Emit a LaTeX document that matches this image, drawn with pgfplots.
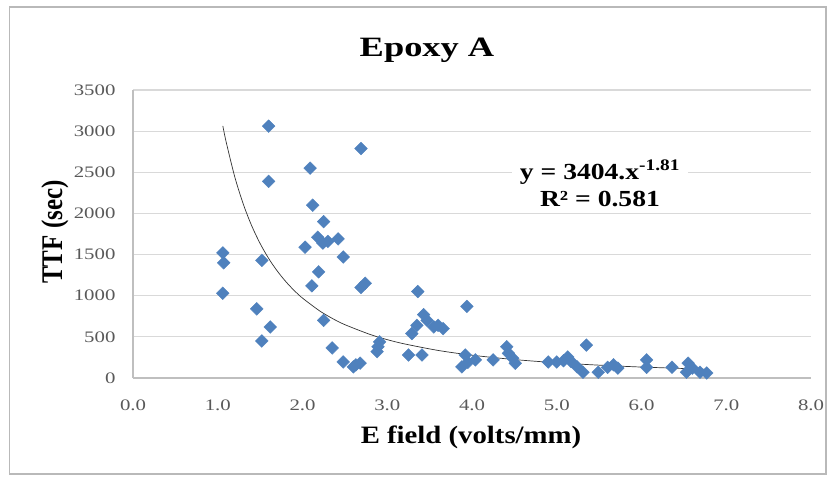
\documentclass[border=0pt]{standalone}
\usepackage{pgfplots}
\pgfplotsset{compat=1.18}
\usepackage{fontspec}
\setmainfont{Liberation Serif}
\definecolor{mk}{HTML}{4F81BD}
\definecolor{gridc}{HTML}{D9D9D9}
\definecolor{axl}{HTML}{BFBFBF}
\definecolor{tk}{HTML}{595959}
\begin{document}
\begin{tikzpicture}[x=1bp,y=1bp]
\useasboundingbox (0,0) rectangle (833,481);
\draw[color=gray!55, line width=1.2bp] (9.5,7) rectangle (826,474);
\node[font=\bfseries\fontsize{28bp}{32bp}\selectfont, xscale=1.3, anchor=base] at (427,424) {Epoxy A};
\begin{axis}[
  at={(133bp,103bp)}, anchor=south west,
  scale only axis, width=678bp, height=288bp,
  xmin=0, xmax=8, ymin=0, ymax=3500,
  xtick={0,1,2,3,4,5,6,7,8},
  xticklabels={0.0,1.0,2.0,3.0,4.0,5.0,6.0,7.0,8.0},
  ytick={0,500,1000,1500,2000,2500,3000,3500},
  yticklabels={0,500,1000,1500,2000,2500,3000,3500},
  axis x line*=bottom, axis y line*=left,
  axis line style={draw=axl, line width=1.2bp},
  major tick length=0pt,
  ymajorgrids, grid style={draw=gridc, line width=1.2bp},
  tick label style={font=\fontsize{16bp}{18bp}\selectfont, text=tk, xscale=1.3},
  xticklabel style={yshift=-18bp},
  yticklabel style={xshift=-10bp},
  xlabel={E field (volts/mm)}, ylabel={TTF (sec)},
  label style={font=\bfseries\fontsize{25bp}{28bp}\selectfont},
  xlabel style={at={(axis description cs:0.4985,-0.205)}, anchor=center, xscale=1.15},
  ylabel style={at={(axis description cs:-0.115,0.507)}, anchor=center, yscale=1.2},
  clip=false,
]
\addplot[only marks, mark=square*, mark size=4.5bp, mark options={rotate=45, fill=mk, draw=mk}] table {
x y
1.06 1520
1.07 1400
1.06 1030
1.60 3060
1.60 2390
1.52 1430
1.46 840
1.62 620
1.52 450
2.03 1590
2.09 2550
2.12 2100
2.25 1900
2.18 1710
2.24 1640
2.30 1660
2.42 1690
2.48 1470
2.19 1290
2.11 1120
2.69 2790
2.69 1100
2.74 1150
2.25 700
2.35 365
2.48 195
2.60 135
2.68 180
2.63 160
2.89 380
2.91 440
2.88 320
3.36 1050
3.94 870
3.43 770
3.47 700
3.35 640
3.60 640
3.66 600
3.55 620
3.29 540
3.25 280
3.41 280
3.92 280
3.88 135
3.95 190
4.04 220
4.25 220
4.41 380
4.43 300
4.51 180
4.48 240
4.90 195
5.00 195
5.08 210
5.13 255
5.17 200
5.24 135
5.31 70
5.35 400
5.49 70
5.60 130
5.67 160
5.72 120
6.06 220
6.06 130
6.36 130
6.55 180
6.53 70
6.60 120
6.69 70
6.77 60
};
\addplot[black!80, line width=0.7bp, smooth] coordinates {
(1.06,3063) (1.1,2865) (1.2,2447) (1.3,2117) (1.4,1851) (1.5,1634) (1.6,1454)
(1.7,1303) (1.8,1175) (1.9,1065) (2.0,971) (2.2,817) (2.35,725) (2.5,648)
(2.8,528) (3.0,466) (3.2,415) (3.6,335) (4.0,277) (4.5,224) (5.0,185)
(5.5,156) (6.0,133) (6.75,107)
};
\node[fill=white, inner xsep=7bp, inner ysep=5bp, align=center,
  font=\bfseries\fontsize{23bp}{27bp}\selectfont, xscale=1.2]
  at (axis cs:5.51,2370) {y = 3404.x\textsuperscript{-1.81}\\R² = 0.581};
\end{axis}
\end{tikzpicture}
\end{document}
